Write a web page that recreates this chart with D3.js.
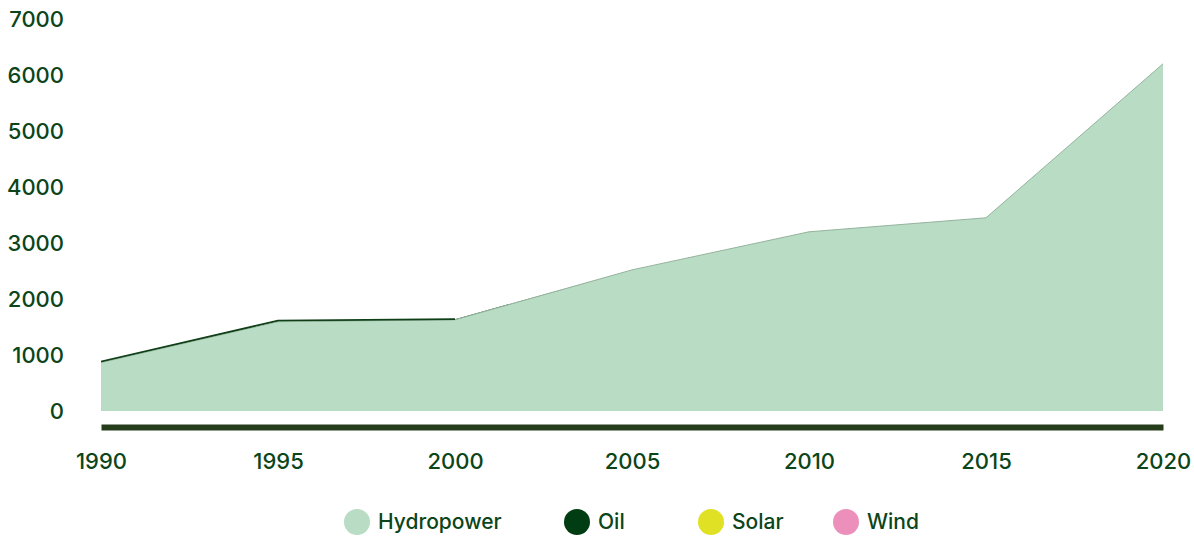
<!DOCTYPE html>
<html>
<head>
<meta charset="utf-8">
<script src="https://cdn.jsdelivr.net/npm/d3@7"></script>
<style>
  html, body { margin: 0; padding: 0; background: #ffffff; }
  svg { display: block; font-family: Inter, "Noto Sans", sans-serif; }
</style>
</head>
<body>
<svg id="chart" width="1194" height="537"></svg>
<script>
// Installed capacity by source, 1990–2020
const years = [1990, 1995, 2000, 2005, 2010, 2015, 2020];
const hydropower = [865, 1595, 1628, 2520, 3200, 3450, 6200];
const oil = [18, 22, 12, 0, 0, 0, 0];
const solar = [0, 0, 0, 0, 0, 0, 0];
const wind = [0, 0, 0, 0, 0, 0, 0];
const seriesNames = ["Hydropower", "Oil", "Solar", "Wind"];
const seriesColors = ["#b8dcc4", "#003d12", "#e0e024", "#ec90bb"];
const edgeColors = ["#95b39d", "#0f3f17", "#c9c920", "#d97aa6"];
const yTicks = [0, 1000, 2000, 3000, 4000, 5000, 6000, 7000];

const textColor = "#0b4519";
const svg = d3.select("#chart");

const x = d3.scaleLinear().domain([1990, 2020]).range([101, 1163]);
const y = d3.scaleLinear().domain([0, 7000]).range([411, 19]);

const table = years.map((yr, i) => ({
  year: yr, Hydropower: hydropower[i], Oil: oil[i], Solar: solar[i], Wind: wind[i]
}));
const stacked = d3.stack().keys(seriesNames)(table);

const area = d3.area()
  .x(d => x(d.data.year))
  .y0(d => y(d[0]))
  .y1(d => y(d[1]));

// Top edge of each layer, drawn only where the layer has a value
const edge = d3.line()
  .defined(d => d[1] - d[0] > 0)
  .x(d => x(d.data.year))
  .y(d => y(d[1]));

svg.append("g").selectAll("path")
  .data(stacked)
  .join("path")
  .attr("d", area)
  .attr("fill", (d, i) => seriesColors[i]);

svg.append("g").selectAll("path")
  .data(stacked)
  .join("path")
  .attr("d", edge)
  .attr("fill", "none")
  .attr("stroke", (d, i) => edgeColors[i])
  .attr("stroke-width", (d, i) => i === 0 ? 1 : 1.6)
  .attr("stroke-linejoin", "round");

// Y axis labels (no line)
const yAxis = svg.append("g")
  .attr("transform", "translate(64,0)")
  .call(d3.axisLeft(y).tickValues(yTicks).tickSize(0).tickPadding(0).tickFormat(d3.format("d")));
yAxis.select(".domain").remove();
yAxis.selectAll("text")
  .attr("fill", textColor)
  .attr("dy", "0.32em")
  .style("font-size", "22px")
  .style("font-weight", "500")
  .style("font-family", "Inter, sans-serif");

// X axis: thick baseline bar offset below the plot
const xAxis = svg.append("g")
  .attr("transform", "translate(0,427)")
  .call(d3.axisBottom(x).tickValues(years).tickSize(0).tickPadding(26).tickFormat(d3.format("d")));
xAxis.select(".domain")
  .attr("stroke", "#263d1c")
  .attr("stroke-width", 6);
xAxis.selectAll("text")
  .attr("fill", textColor)
  .style("font-size", "22px")
  .style("font-weight", "500")
  .style("font-family", "Inter, sans-serif");

// Legend
const legendX = [357, 577, 711, 846];
const legend = svg.append("g").attr("transform", "translate(0,522)");
const items = legend.selectAll("g")
  .data(seriesNames)
  .join("g")
  .attr("transform", (d, i) => `translate(${legendX[i]},0)`);
items.append("circle")
  .attr("r", 13)
  .attr("fill", (d, i) => seriesColors[i]);
items.append("text")
  .attr("x", 21)
  .attr("dy", "0.35em")
  .attr("fill", textColor)
  .style("font-size", "21px")
  .style("font-weight", "500")
  .style("font-family", "Inter, sans-serif")
  .text(d => d);
</script>
</body>
</html>
